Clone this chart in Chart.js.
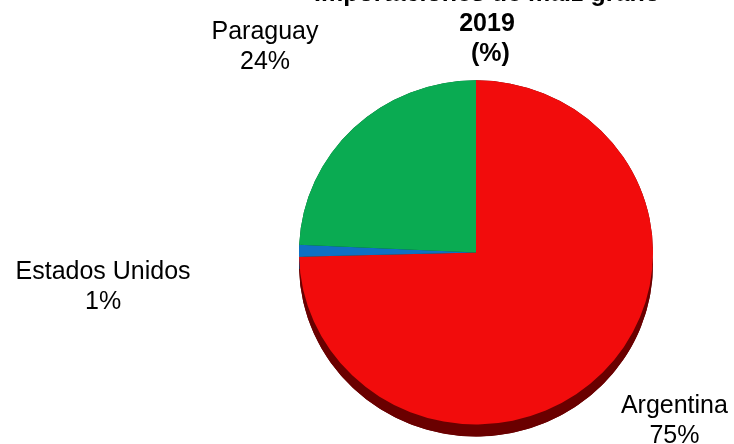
<!DOCTYPE html>
<html>
<head>
<meta charset="utf-8">
<script src="https://cdn.jsdelivr.net/npm/chart.js@4/dist/chart.umd.min.js"></script>
<style>
  html, body { margin: 0; padding: 0; background: #fff; }
  #wrap { width: 734px; height: 444px; position: relative; }
</style>
</head>
<body>
<div id="wrap"><canvas id="pieChart" width="734" height="444"></canvas></div>
<script>
// --- Data ---
const countries = ['Argentina', 'Estados Unidos', 'Paraguay'];
const shares = [74.6, 1.1, 24.3];
const titleLines = ['Importaciones de maíz grano', '2019', ' (%)'];

// --- Styles ---
const sliceColors = ['#f20c0c', '#1070c4', '#0aab52'];
const shadowColors = ['#6a0000', '#0a3a66', '#05552a'];
const labelOffsets = [[1.121, 0.953], [-2.107, 0.195], [-1.192, -1.158]]; // in units of radius
const tilt = 0.972;     // slight vertical squash (3D look)
const depth = 12;       // shadow thickness, px
const FONT = '"Liberation Sans", Arial, sans-serif';

// squash the pie vertically + draw extruded edge under it
const tiltPlugin = {
    id: 'tilt',
    beforeDatasetsDraw(chart) {
        const ctx = chart.ctx;
        const arcs = chart.getDatasetMeta(0).data;
        if (!arcs.length) return;
        const cx = arcs[0].x, cy = arcs[0].y;
        ctx.save();
        ctx.translate(cx, cy);
        ctx.scale(1, tilt);
        ctx.translate(-cx, -cy);
        const d = depth / tilt;
        arcs.forEach((arc, i) => {
            ctx.beginPath();
            ctx.moveTo(arc.x, arc.y + d);
            ctx.arc(arc.x, arc.y + d, arc.outerRadius, arc.startAngle, arc.endAngle);
            ctx.closePath();
            ctx.fillStyle = shadowColors[i];
            ctx.fill();
            // side band between face and shifted copy
            ctx.beginPath();
            ctx.arc(arc.x, arc.y, arc.outerRadius, arc.startAngle, arc.endAngle);
            ctx.arc(arc.x, arc.y + d, arc.outerRadius, arc.endAngle, arc.startAngle, true);
            ctx.closePath();
            ctx.fill();
        });
    },
    afterDatasetsDraw(chart) {
        chart.ctx.restore();
    }
};

// title and outside labels
const textPlugin = {
    id: 'texts',
    afterDraw(chart) {
        const ctx = chart.ctx;
        const arcs = chart.getDatasetMeta(0).data;
        const total = shares.reduce((a, b) => a + b, 0);
        ctx.save();
        ctx.fillStyle = '#000';
        ctx.textAlign = 'center';
        ctx.textBaseline = 'middle';

        ctx.font = 'bold 25px ' + FONT;
        const tx = arcs[0].x + 11;
        titleLines.forEach((line, i) => ctx.fillText(line, tx, -6 + i * 30));

        ctx.font = '25px ' + FONT;
        arcs.forEach((arc, i) => {
            const r = arc.outerRadius;
            const x = arc.x + labelOffsets[i][0] * r;
            const y = arc.y + labelOffsets[i][1] * r;
            const pct = Math.round(shares[i] / total * 100) + '%';
            ctx.fillText(countries[i], x, y - 15);
            ctx.fillText(pct, x, y + 15);
        });
        ctx.restore();
    }
};

const ctx = document.getElementById('pieChart').getContext('2d');
new Chart(ctx, {
    type: 'pie',
    data: {
        labels: countries,
        datasets: [{
            data: shares,
            backgroundColor: sliceColors,
            borderWidth: 0
        }]
    },
    options: {
        responsive: false,
        animation: false,
        layout: { padding: { left: 299, right: 81, top: 75.4, bottom: 14.6 } },
        plugins: {
            legend: { display: false },
            tooltip: { enabled: false },
            title: { display: false }
        }
    },
    plugins: [tiltPlugin, textPlugin]
});
</script>
</body>
</html>
